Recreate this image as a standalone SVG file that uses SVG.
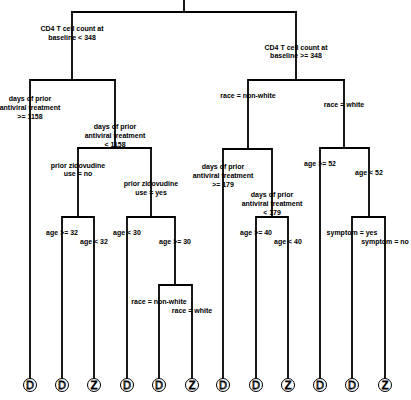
<svg xmlns="http://www.w3.org/2000/svg" width="411" height="400" viewBox="0 0 411 400">
<style>
.e{fill:none;stroke:#000;stroke-width:1.8;stroke-linecap:square}
.l{font-family:"Liberation Sans",Arial,sans-serif;font-size:7px;font-weight:bold;text-anchor:middle;fill:#000}
.c{fill:#fff;stroke:#000;stroke-width:1}
.t{font-family:"Liberation Sans",Arial,sans-serif;font-size:11px;text-anchor:middle;fill:#fff;stroke:#000;stroke-width:0.8}
</style>
<rect width="411" height="400" fill="#fff"/>
<g id="connectors">
<path class="e" d="M184,0V12M72,12H296"/>
<path class="e" d="M72,12V80M30,80H115M30,80V379M115,80V148M78,148H151"/>
<path class="e" d="M78,148V217M62,217H94M62,217V379M94,217V379"/>
<path class="e" d="M151,148V217M127,217H175M127,217V379M175,217V285M159,285H192M159,285V379M192,285V379"/>
<path class="e" d="M296,12V80M248,80H344M248,80V149M223,149H272M223,149V379M272,149V217M256,217H288M256,217V379M288,217V379"/>
<path class="e" d="M344,80V148M320,148H369M320,148V379M369,148V217M352,217H385M352,217V379M385,217V379"/>
</g>
<g id="labels">
<text class="l" x="72" y="31">CD4 T cell count at</text>
<text class="l" x="72" y="39.5">baseline &lt; 348</text>
<text class="l" x="296" y="49.5">CD4 T cell count at</text>
<text class="l" x="296" y="58">baseline &gt;= 348</text>
<text class="l" x="30" y="100.5">days of prior</text>
<text class="l" x="30" y="109.5">antiviral treatment</text>
<text class="l" x="30" y="118.5">&gt;= 1158</text>
<text class="l" x="115" y="128.5">days of prior</text>
<text class="l" x="115" y="137.5">antiviral treatment</text>
<text class="l" x="115" y="146.5">&lt; 1158</text>
<text class="l" x="78" y="167.5">prior zidovudine</text>
<text class="l" x="78" y="176">use = no</text>
<text class="l" x="151" y="186">prior zidovudine</text>
<text class="l" x="151" y="195">use = yes</text>
<text class="l" x="62" y="234.5">age &gt;= 32</text>
<text class="l" x="94" y="243.5">age &lt; 32</text>
<text class="l" x="127" y="234.5">age &lt; 30</text>
<text class="l" x="175" y="243.5">age &gt;= 30</text>
<text class="l" x="159" y="303.5">race = non-white</text>
<text class="l" x="192" y="312.5">race = white</text>
<text class="l" x="248" y="98">race = non-white</text>
<text class="l" x="344" y="107">race = white</text>
<text class="l" x="223" y="169">days of prior</text>
<text class="l" x="223" y="177.5">antiviral treatment</text>
<text class="l" x="223" y="186.5">&gt;= 179</text>
<text class="l" x="272" y="197">days of prior</text>
<text class="l" x="272" y="206">antiviral treatment</text>
<text class="l" x="272" y="214.5">&lt; 179</text>
<text class="l" x="256" y="234.5">age &gt;= 40</text>
<text class="l" x="288" y="243.5">age &lt; 40</text>
<text class="l" x="320" y="166">age &gt;= 52</text>
<text class="l" x="369" y="175">age &lt; 52</text>
<text class="l" x="352" y="234.5">symptom = yes</text>
<text class="l" x="385" y="243.5">symptom = no</text>
</g>
<g id="leaf1"><circle class="c" cx="30" cy="385" r="6.5"/><text class="t" x="30" y="389">D</text></g>
<g id="leaf2"><circle class="c" cx="62" cy="385" r="6.5"/><text class="t" x="62" y="389">D</text></g>
<g id="leaf3"><circle class="c" cx="94" cy="385" r="6.5"/><text class="t" x="94" y="389">Z</text></g>
<g id="leaf4"><circle class="c" cx="127" cy="385" r="6.5"/><text class="t" x="127" y="389">D</text></g>
<g id="leaf5"><circle class="c" cx="159" cy="385" r="6.5"/><text class="t" x="159" y="389">D</text></g>
<g id="leaf6"><circle class="c" cx="192" cy="385" r="6.5"/><text class="t" x="192" y="389">Z</text></g>
<g id="leaf7"><circle class="c" cx="223" cy="385" r="6.5"/><text class="t" x="223" y="389">D</text></g>
<g id="leaf8"><circle class="c" cx="256" cy="385" r="6.5"/><text class="t" x="256" y="389">D</text></g>
<g id="leaf9"><circle class="c" cx="288" cy="385" r="6.5"/><text class="t" x="288" y="389">Z</text></g>
<g id="leaf10"><circle class="c" cx="320" cy="385" r="6.5"/><text class="t" x="320" y="389">D</text></g>
<g id="leaf11"><circle class="c" cx="352" cy="385" r="6.5"/><text class="t" x="352" y="389">D</text></g>
<g id="leaf12"><circle class="c" cx="385" cy="385" r="6.5"/><text class="t" x="385" y="389">Z</text></g>
</svg>
